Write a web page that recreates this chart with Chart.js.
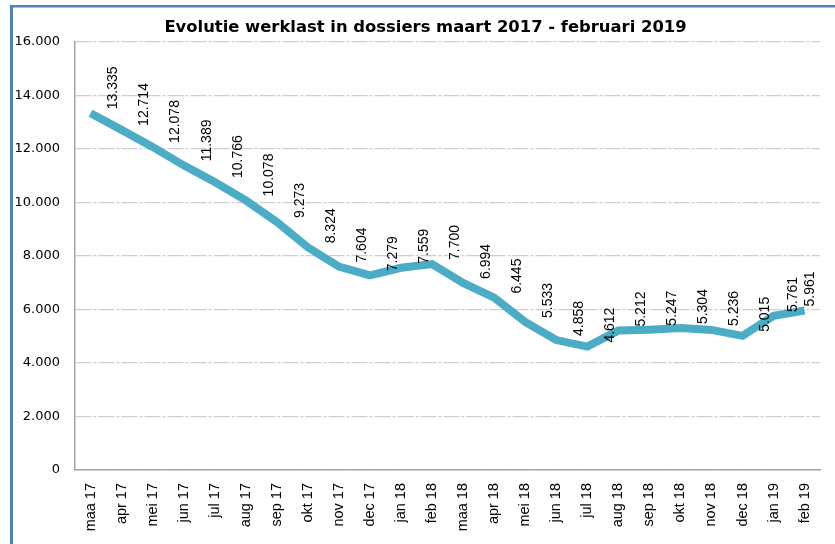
<!DOCTYPE html>
<html>
<head>
<meta charset="utf-8">
<script src="https://cdn.jsdelivr.net/npm/chart.js@4/dist/chart.umd.min.js"></script>
<style>
  html, body { margin: 0; padding: 0; background: #fff; }
  #wrap { width: 835px; height: 544px; position: relative; overflow: hidden; }
</style>
</head>
<body>
<div id="wrap"><canvas id="c" width="835" height="544"></canvas></div>
<script>
const TITLE = 'Evolutie werklast in dossiers maart 2017 - februari 2019';
const categories = ['maa 17','apr 17','mei 17','jun 17','jul 17','aug 17','sep 17','okt 17','nov 17','dec 17',
  'jan 18','feb 18','maa 18','apr 18','mei 18','jun 18','jul 18','aug 18','sep 18','okt 18','nov 18','dec 18',
  'jan 19','feb 19'];
const werklast = [13335,12714,12078,11389,10766,10078,9273,8324,7604,7279,
  7559,7700,6994,6445,5533,4858,4612,5212,5247,5304,5236,5015,
  5761,5961];
const yTicks = [0,2000,4000,6000,8000,10000,12000,14000,16000];

function fmt(v) {
  return String(v).replace(/\B(?=(\d{3})+(?!\d))/g, '.');
}

const framePlugin = {
  id: 'frame',
  beforeDraw(chart) {
    const ctx = chart.ctx;
    ctx.save();
    ctx.fillStyle = '#ffffff';
    ctx.fillRect(0, 0, chart.width, chart.height);
    ctx.fillStyle = '#4F81BD';
    ctx.fillRect(10, 5, 3, chart.height - 5);
    ctx.fillRect(10, 5, chart.width - 10, 2.5);
    ctx.restore();
  }
};

const labelPlugin = {
  id: 'vlabels',
  afterDatasetsDraw(chart) {
    const ctx = chart.ctx;
    const meta = chart.getDatasetMeta(0);
    const data = chart.data.datasets[0].data;
    const pts = meta.data;
    const xs = [];
    let limit = chart.chartArea.right - 10;
    for (let i = pts.length - 1; i >= 0; i--) {
      const x = Math.min(pts[i].x + 23, limit);
      xs[i] = x;
      limit = x - 17;
    }
    ctx.save();
    ctx.font = '14px "Liberation Sans", Arial, sans-serif';
    ctx.fillStyle = '#000000';
    ctx.textAlign = 'left';
    ctx.textBaseline = 'middle';
    for (let i = 0; i < pts.length; i++) {
      ctx.save();
      ctx.translate(xs[i], pts[i].y - 4);
      ctx.rotate(-Math.PI / 2);
      ctx.fillText(fmt(data[i]), 0, 0);
      ctx.restore();
    }
    ctx.restore();
  }
};

new Chart(document.getElementById('c'), {
  type: 'line',
  data: {
    labels: categories,
    datasets: [{
      data: werklast,
      borderColor: '#4BACC6',
      borderWidth: 8,
      pointRadius: 0,
      pointHoverRadius: 0,
      tension: 0,
      fill: false
    }]
  },
  options: {
    responsive: false,
    animation: false,
    events: [],
    layout: { padding: { left: 16, right: 0, top: 0, bottom: 0 } },
    plugins: {
      legend: { display: false },
      tooltip: { enabled: false },
      title: {
        display: true,
        text: TITLE,
        color: '#000000',
        font: { family: '"DejaVu Sans", Verdana, sans-serif', size: 16.4, weight: 'bold', lineHeight: 1.2 },
        padding: { top: 18.2, bottom: 4.1 }
      }
    },
    scales: {
      x: {
        offset: true,
        grid: { display: false, drawTicks: false },
        border: { display: true, color: '#a6a6a6', width: 1.5 },
        ticks: {
          autoSkip: false,
          minRotation: 90,
          maxRotation: 90,
          padding: 13,
          color: '#000000',
          font: { family: '"Liberation Sans", Arial, sans-serif', size: 14.5 }
        },
        afterFit(scale) { scale.height = 74; }
      },
      y: {
        min: 0,
        max: 16000,
        afterBuildTicks(scale) { scale.ticks = yTicks.map(v => ({ value: v })); },
        grid: {
          color: '#cfcfcf',
          lineWidth: 1.2,
          drawTicks: false
        },
        border: { display: true, color: '#a6a6a6', width: 1.5, dash: [16, 2, 3, 2] },
        ticks: {
          padding: 15,
          color: '#000000',
          font: { family: '"DejaVu Sans", Verdana, sans-serif', size: 13 },
          callback: (v) => fmt(v)
        },
        afterFit(scale) { scale.width = 59; }
      }
    }
  },
  plugins: [framePlugin, labelPlugin]
});
</script>
</body>
</html>
